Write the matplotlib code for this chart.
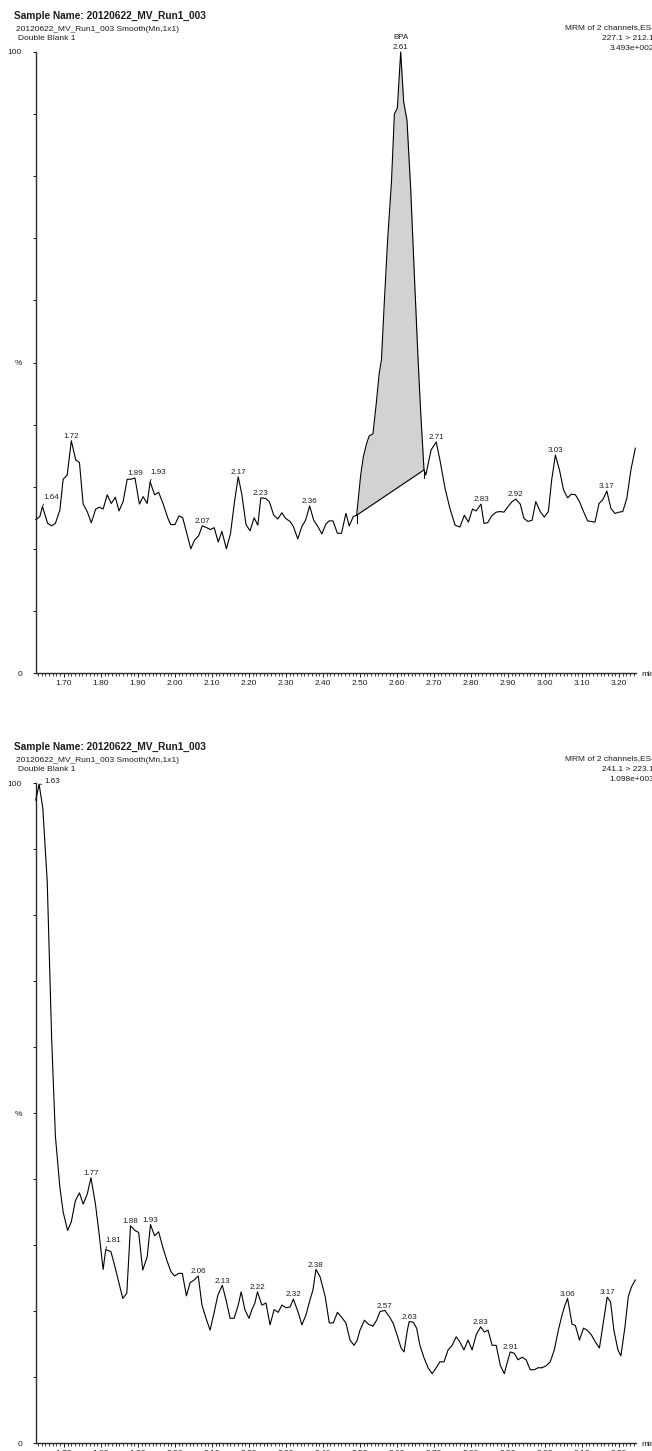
"""
Two MRM chromatograms (BPA channels) from 20120622_MV_Run1_003, double blank.
"""
import numpy as np
import matplotlib
matplotlib.use("Agg")
import matplotlib.pyplot as plt
from matplotlib.ticker import MultipleLocator, FixedLocator, FixedFormatter

plt.rcParams['font.family'] = ['Liberation Sans', 'DejaVu Sans']

W, H = 652, 1451
INK = '#1c1c1c'

# ---- channel 1 : 227.1 > 212.1 ----
top_t = [1.624, 1.635, 1.642, 1.656, 1.667, 1.677, 1.689, 1.698, 1.709, 1.720,
         1.732, 1.742, 1.752, 1.763, 1.774, 1.786, 1.796, 1.806, 1.817, 1.828,
         1.839, 1.849, 1.860, 1.871, 1.881, 1.892, 1.904, 1.914, 1.925, 1.933,
         1.945, 1.956, 1.969, 1.981, 1.989, 2.000, 2.011, 2.021, 2.032, 2.043,
         2.053, 2.064, 2.074, 2.086, 2.096, 2.106, 2.117, 2.127, 2.139, 2.150,
         2.161, 2.171, 2.181, 2.192, 2.203, 2.214, 2.224, 2.232, 2.245, 2.255,
         2.267, 2.278, 2.289, 2.299, 2.311, 2.320, 2.332, 2.343, 2.353, 2.364,
         2.375, 2.386, 2.397, 2.408, 2.417, 2.427, 2.439, 2.450, 2.462, 2.471,
         2.482, 2.491,
         2.502, 2.509, 2.518, 2.525, 2.535, 2.544, 2.552, 2.558,
         2.566, 2.575, 2.585, 2.593, 2.601, 2.610, 2.618, 2.627, 2.637, 2.647,
         2.657, 2.664, 2.673,
         2.678, 2.692, 2.706, 2.716, 2.730, 2.743, 2.757,
         2.770, 2.782, 2.793, 2.804, 2.814, 2.827, 2.835, 2.845, 2.856, 2.868,
         2.879, 2.889, 2.900, 2.911, 2.921, 2.933, 2.943, 2.954, 2.965, 2.975,
         2.987, 2.998, 3.009, 3.018, 3.028, 3.039, 3.050, 3.061, 3.071, 3.082,
         3.093, 3.104, 3.115, 3.125, 3.135, 3.146, 3.156, 3.167, 3.178, 3.189,
         3.200, 3.210, 3.221, 3.232, 3.244]
top_v = [24.7, 25.2, 26.8, 24.1, 23.7, 24.1, 26.2, 31.2, 31.9, 37.4,
         34.3, 33.9, 27.2, 26.0, 24.2, 26.4, 26.7, 26.4, 28.7, 27.3,
         28.3, 26.1, 27.6, 31.2, 31.2, 31.4, 27.2, 28.4, 27.3, 30.8,
         28.7, 29.1, 27.1, 24.9, 23.9, 23.9, 25.3, 25.0, 22.5, 20.0,
         21.4, 22.1, 23.7, 23.4, 23.1, 23.4, 21.1, 22.8, 20.0, 22.4,
         27.6, 31.6, 28.7, 23.9, 22.9, 25.0, 23.8, 28.2, 28.1, 27.6,
         25.4, 24.8, 25.8, 24.9, 24.4, 23.6, 21.6, 23.6, 24.6, 26.9,
         24.6, 23.6, 22.4, 24.0, 24.5, 24.5, 22.5, 22.5, 25.7, 23.7,
         25.2, 25.4,
         31.9, 34.8, 37.0, 38.2, 38.5, 43.4, 48.3, 50.4,
         60.0, 70.0, 79.0, 90.0, 91.0, 100.0, 92.0, 89.0, 78.0, 64.0,
         50.5, 42.0, 32.7,
         31.9, 35.9, 37.2, 34.3, 29.7, 26.5, 23.8,
         23.5, 25.4, 24.3, 26.4, 26.1, 27.2, 24.1, 24.2, 25.3, 25.9,
         26.0, 25.9, 26.8, 27.6, 28.0, 27.2, 24.9, 24.4, 24.6, 27.6,
         26.0, 25.1, 26.0, 31.1, 35.1, 32.7, 29.5, 28.2, 28.8, 28.7,
         27.6, 26.0, 24.5, 24.4, 24.3, 27.3, 27.9, 29.3, 26.5, 25.7,
         25.9, 26.0, 28.1, 32.7, 36.2]
top_labels = ["1.64", "1.72", "1.89", "1.93", "2.07", "2.17", "2.23", "2.36",
              "2.61", "2.71", "2.83", "2.92", "3.03", "3.17"]
top_leader = ["1.64", "1.93"]
bpa_start, bpa_end = 2.491, 2.673

# ---- channel 2 : 241.1 > 223.1 ----
bot_t = [1.624, 1.633, 1.643, 1.655, 1.667, 1.677, 1.689, 1.698, 1.710, 1.720,
         1.731, 1.742, 1.752, 1.763, 1.773, 1.785, 1.796, 1.806, 1.813, 1.827,
         1.838, 1.849, 1.859, 1.870, 1.880, 1.892, 1.902, 1.913, 1.925, 1.934,
         1.945, 1.956, 1.967, 1.978, 1.989, 1.999, 2.010, 2.020, 2.031, 2.041,
         2.052, 2.063, 2.073, 2.084, 2.095, 2.106, 2.116, 2.128, 2.138, 2.149,
         2.160, 2.171, 2.179, 2.189, 2.200, 2.208, 2.216, 2.223, 2.235, 2.246,
         2.257, 2.268, 2.279, 2.289, 2.300, 2.311, 2.320, 2.333, 2.343, 2.354,
         2.365, 2.373, 2.381, 2.392, 2.406, 2.417, 2.428, 2.439, 2.451, 2.462,
         2.473, 2.484, 2.492, 2.500, 2.512, 2.523, 2.535, 2.545, 2.554, 2.567,
         2.581, 2.590, 2.600, 2.611, 2.619, 2.628, 2.633, 2.644, 2.653, 2.662,
         2.673, 2.684, 2.695, 2.706, 2.716, 2.727, 2.738, 2.749, 2.760, 2.770,
         2.781, 2.792, 2.803, 2.814, 2.826, 2.836, 2.846, 2.857, 2.868, 2.879,
         2.890, 2.897, 2.906, 2.917, 2.927, 2.938, 2.949, 2.960, 2.971, 2.981,
         2.992, 3.003, 3.014, 3.025, 3.036, 3.046, 3.054, 3.061, 3.073, 3.082,
         3.093, 3.104, 3.114, 3.125, 3.136, 3.147, 3.157, 3.168, 3.177, 3.186,
         3.197, 3.205, 3.216, 3.225, 3.234, 3.244]
bot_v = [97.4, 99.8, 96.2, 85.0, 61.1, 46.5, 38.8, 35.0, 32.2, 33.5,
         36.7, 37.9, 36.2, 37.7, 40.2, 36.3, 31.3, 26.3, 29.3, 29.0,
         26.7, 24.2, 21.9, 22.7, 32.9, 32.2, 31.9, 26.2, 28.2, 33.1,
         31.4, 32.0, 29.7, 27.7, 26.0, 25.3, 25.7, 25.7, 22.3, 24.3,
         24.7, 25.3, 20.9, 18.9, 17.1, 19.8, 22.4, 23.9, 21.7, 18.9,
         18.9, 20.9, 22.9, 20.2, 18.9, 20.2, 21.2, 22.9, 20.9, 21.2,
         17.9, 20.2, 19.8, 20.9, 20.5, 20.6, 21.8, 19.8, 17.9, 19.4,
         21.7, 23.2, 26.3, 25.2, 22.2, 18.2, 18.2, 19.8, 19.0, 18.2,
         15.6, 14.8, 15.5, 17.1, 18.6, 18.0, 17.7, 18.6, 19.9, 20.1,
         19.0, 18.1, 16.4, 14.4, 13.8, 17.1, 18.4, 18.3, 17.4, 14.8,
         12.9, 11.4, 10.5, 11.4, 12.3, 12.3, 14.1, 14.8, 16.1, 15.3,
         14.1, 15.6, 14.1, 16.4, 17.6, 16.8, 17.1, 14.8, 14.8, 11.8,
         10.5, 12.0, 13.8, 13.6, 12.6, 13.0, 12.6, 11.1, 11.1, 11.4,
         11.4, 11.7, 12.3, 14.1, 17.1, 19.4, 20.9, 21.9, 18.0, 17.8,
         15.6, 17.4, 17.1, 16.4, 15.3, 14.4, 18.1, 22.1, 21.4, 17.1,
         14.1, 13.2, 17.6, 22.2, 23.7, 24.7]
bot_labels = ["1.63", "1.77", "1.81", "1.88", "1.93", "2.06", "2.13", "2.22",
              "2.32", "2.38", "2.57", "2.63", "2.83", "2.91", "3.06", "3.17"]
bot_leader = ["1.63", "1.81"]

sample = "Sample Name: 20120622_MV_Run1_003"
subtitle = "20120622_MV_Run1_003 Smooth(Mn,1x1)"
blank = "Double Blank 1"
channels = [("227.1 > 212.1", "3.493e+002"), ("241.1 > 223.1", "1.098e+003")]

xmin, xmax = 1.6238, 3.245
x_ticks = np.round(np.arange(1.70, 3.21, 0.10), 2)

# leader-line label offsets (points) for the crowded peaks
leader_off = {"1.64": (6.5, 5.2), "1.93": (5.9, 5.3),
              "1.63": (9.6, 0.7), "1.81": (5.5, 5.5)}


def fig_xy(x, y):
    """ pixel position (top-left origin) -> figure fraction """
    return x / W, 1 - y / H


def apex(t, v, label):
    """ highest point within half a scan of the labelled time """
    t = np.asarray(t)
    v = np.asarray(v)
    mask = np.abs(t - float(label)) <= 0.0065
    idx = np.where(mask)[0]
    i = idx[np.argmax(v[idx])]
    return t[i], v[i]


def panel(fig, top, t, v, labels, leaders, channel):
    """ draws one chromatogram; top = pixel row of the header """
    y100 = top + 52
    y0 = top + 673 if top == 0 else top + 712
    ax = fig.add_axes([35.7 / W, 1 - y0 / H, 600 / W, (y0 - y100) / H])
    ax.set_xlim(xmin, xmax)
    ax.set_ylim(0, 100)

    ax.plot(t, v, color='black', lw=0.8, clip_on=False, zorder=3)

    for lbl in labels:
        px, pv = apex(t, v, lbl)
        if lbl in leaders:
            ax.annotate(lbl, (px, pv), xytext=leader_off[lbl],
                        textcoords='offset points', ha='center',
                        va='baseline', fontsize=5.8, color=INK,
                        arrowprops=dict(arrowstyle='-', color=INK, lw=0.6,
                                        shrinkA=0, shrinkB=0,
                                        relpos=(0.15, 0.2)))
        else:
            ax.annotate(lbl, (px, pv), xytext=(0, 0.5),
                        textcoords='offset points', ha='center', va='bottom',
                        fontsize=5.8, color=INK)

    for s in ['top', 'right']:
        ax.spines[s].set_visible(False)
    for s in ['left', 'bottom']:
        ax.spines[s].set_color('#2a2a2a')
        ax.spines[s].set_linewidth(1.0)

    ax.yaxis.set_major_locator(FixedLocator(np.arange(0, 101, 10)))
    ylab = [''] * 11
    ylab[0], ylab[5], ylab[10] = '0', '%', '100'
    ax.yaxis.set_major_formatter(FixedFormatter(ylab))
    ax.tick_params(axis='y', direction='out', length=2.4, width=0.7,
                   pad=7.5, labelsize=6, colors=INK)

    ax.xaxis.set_major_locator(FixedLocator(x_ticks))
    ax.xaxis.set_major_formatter(FixedFormatter(["%.2f" % x for x in x_ticks]))
    ax.xaxis.set_minor_locator(MultipleLocator(0.01))
    ax.tick_params(axis='x', which='major', direction='out', length=3.2,
                   width=0.7, pad=1.5, labelsize=6, colors=INK)
    ax.tick_params(axis='x', which='minor', direction='out', length=1.8,
                   width=0.6, colors=INK)

    ax.text(1 + 5.5 / 600, -1.5 / (y0 - y100), 'min', transform=ax.transAxes,
            ha='left', va='center', fontsize=6, color=INK)

    # header block
    fig.text(*fig_xy(14, top + 15.7), sample, fontsize=7.3,
             fontweight='bold', color=INK, va='center', ha='left')
    fig.text(*fig_xy(16, top + 29.3), subtitle, fontsize=6, color=INK,
             va='center', ha='left')
    fig.text(*fig_xy(17.7, top + 38.7), blank, fontsize=6, color=INK,
             va='center', ha='left')
    fig.text(*fig_xy(654, top + 27.3), "MRM of 2 channels,ES-", fontsize=6,
             color=INK, va='center', ha='right')
    fig.text(*fig_xy(654, top + 38.3), channel[0], fontsize=6, color=INK,
             va='center', ha='right')
    fig.text(*fig_xy(654, top + 48.3), channel[1], fontsize=6, color=INK,
             va='center', ha='right')
    return ax


fig = plt.figure(figsize=(W / 100, H / 100), dpi=100)

ax1 = panel(fig, 0, top_t, top_v, top_labels, top_leader, channels[0])

# integrated BPA peak: grey area above the drawn baseline
tt = np.asarray(top_t)
vv = np.asarray(top_v)
b0 = np.interp(bpa_start, tt, vv)
b1 = np.interp(bpa_end, tt, vv)
sel = (tt >= bpa_start) & (tt <= bpa_end)
base = np.interp(tt[sel], [bpa_start, bpa_end], [b0, b1])
ax1.fill_between(tt[sel], base, vv[sel], color='#d2d2d4', lw=0, zorder=2,
                 clip_on=False)
ax1.plot([bpa_start, bpa_end], [b0, b1], color='black', lw=0.8, zorder=3)
ax1.plot([bpa_start, bpa_start], [b0, b0 - 1.3], color='black', lw=0.7)
ax1.plot([bpa_end, bpa_end], [b1, b1 - 1.3], color='black', lw=0.7)
px, pv = apex(top_t, top_v, "2.61")
ax1.annotate("BPA", (px, pv), xytext=(0, 7.7), textcoords='offset points',
             ha='center', va='bottom', fontsize=5.8, color=INK)

ax2 = panel(fig, 731, bot_t, bot_v, bot_labels, bot_leader, channels[1])

fig.savefig("out.png", dpi=100)
